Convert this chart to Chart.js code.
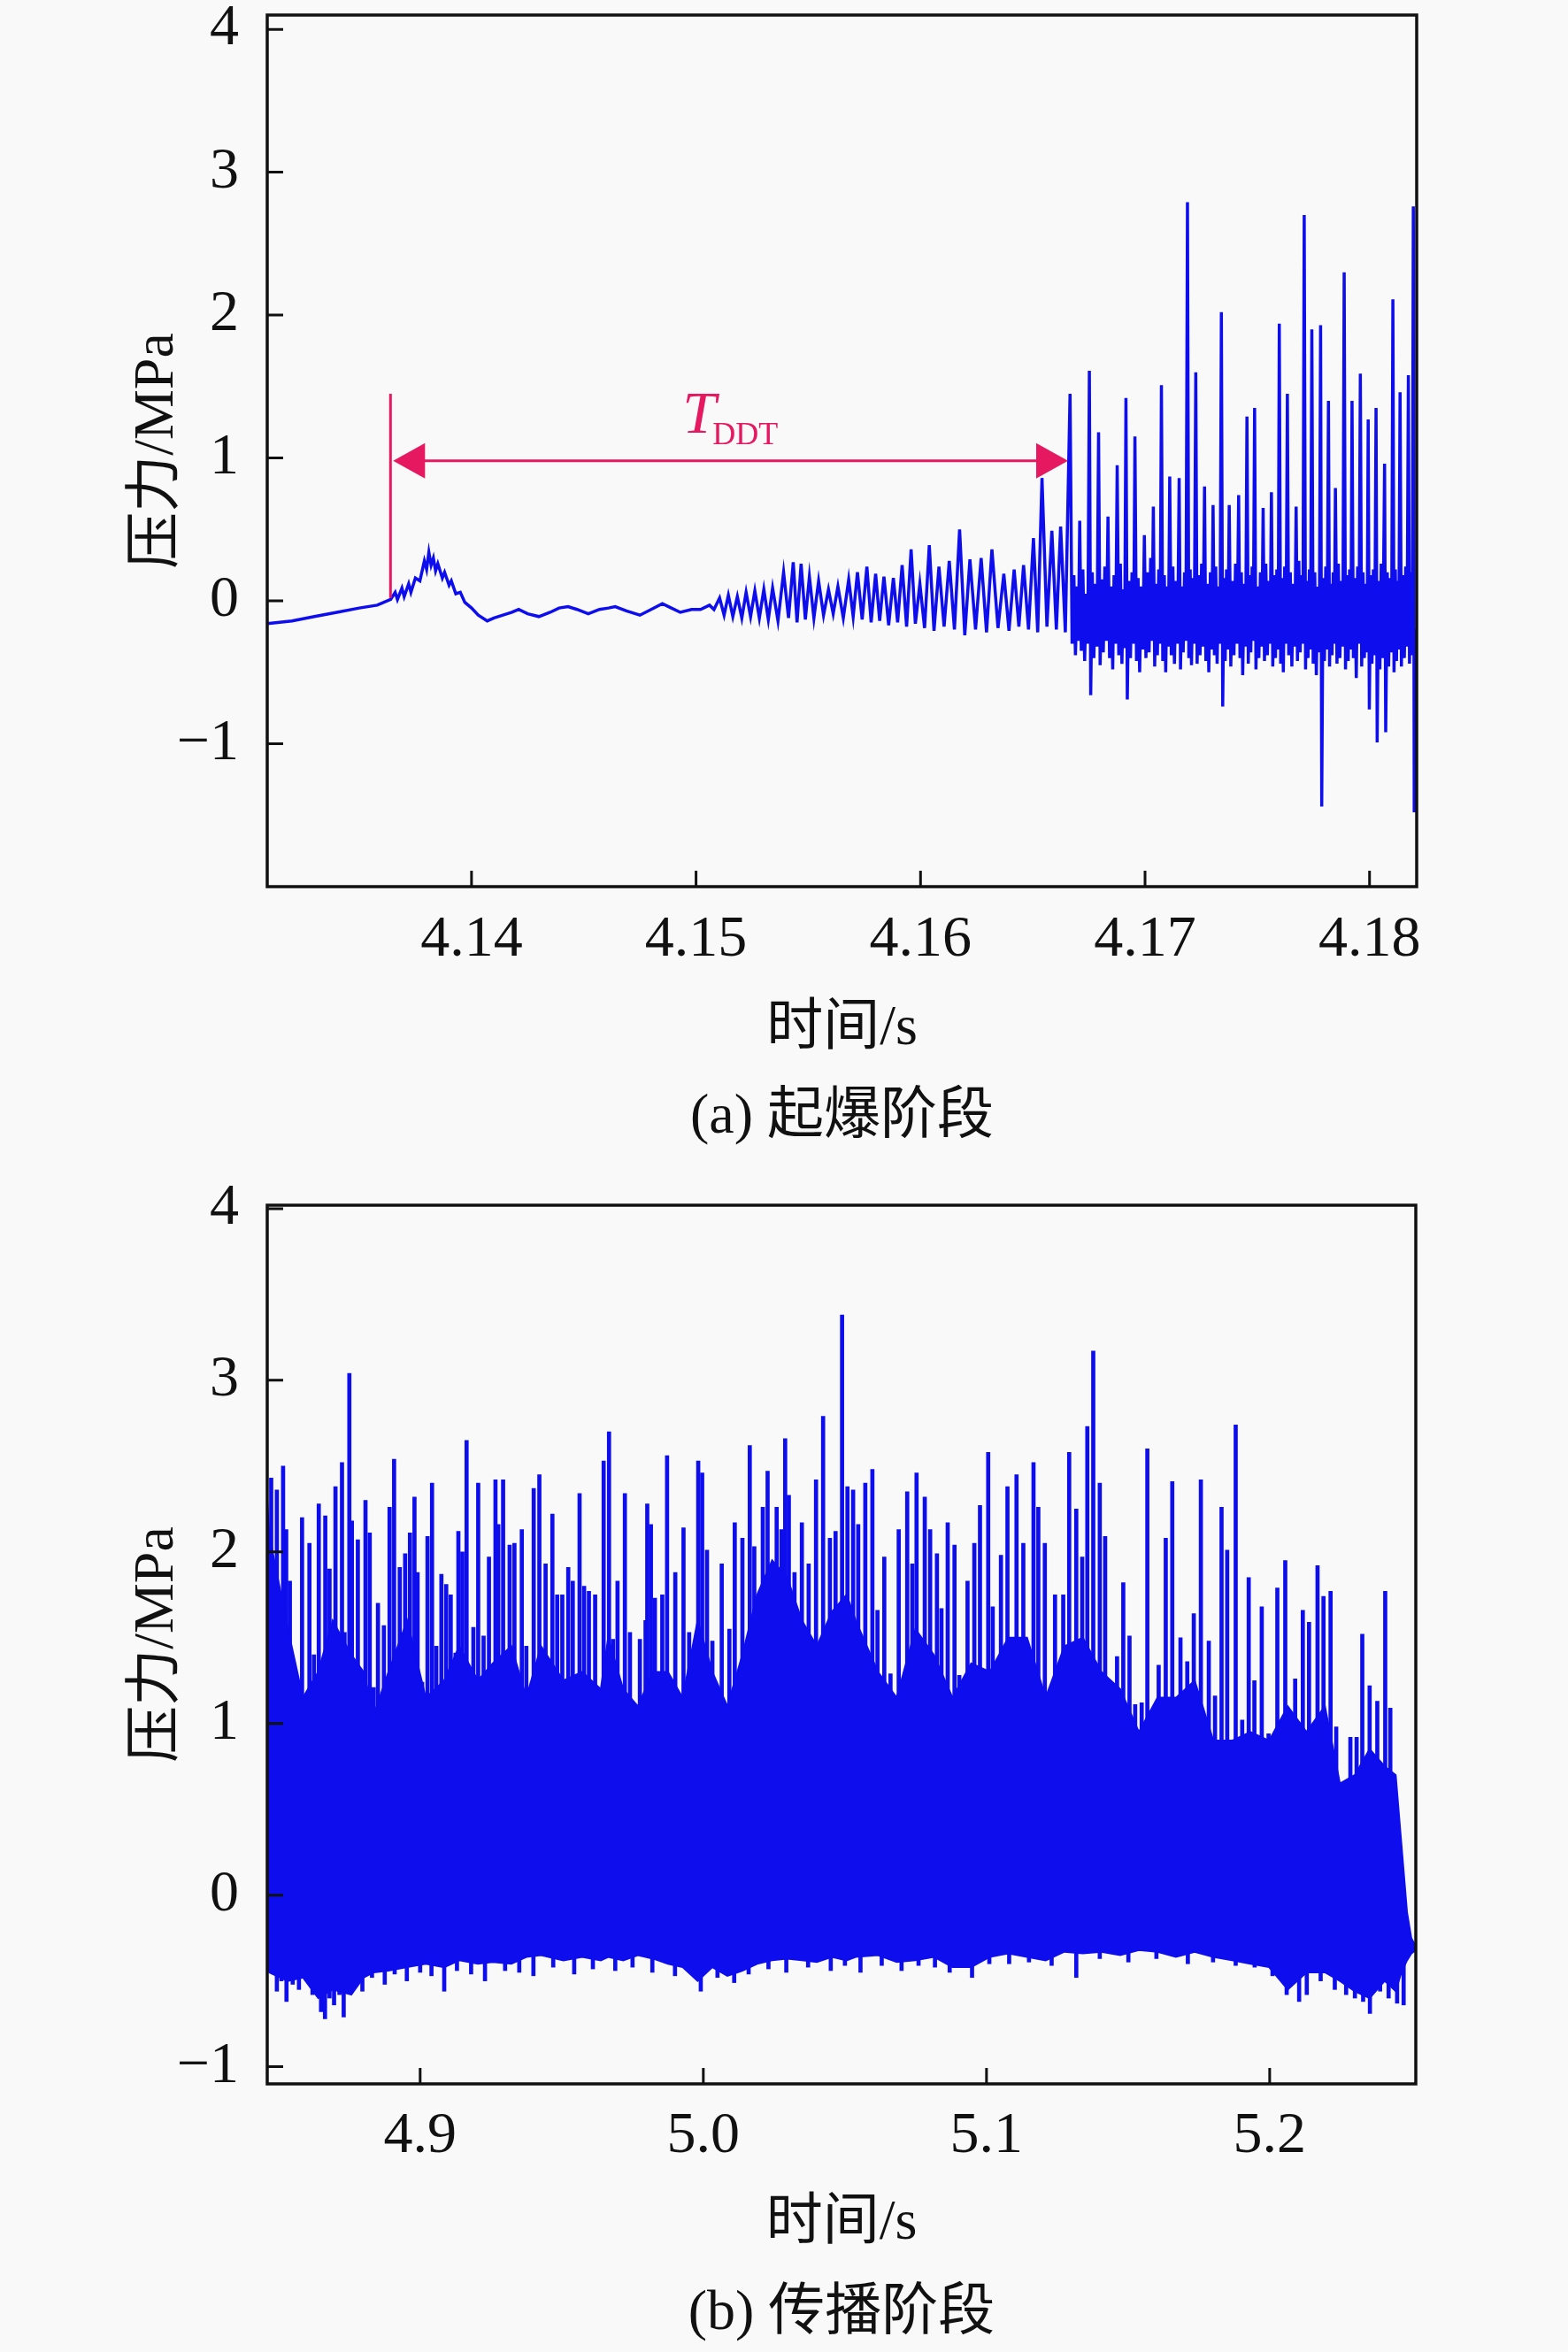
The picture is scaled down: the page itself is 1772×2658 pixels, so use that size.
<!DOCTYPE html>
<html>
<head>
<meta charset="utf-8">
<script src="https://cdn.jsdelivr.net/npm/chart.js@4.4.1/dist/chart.umd.min.js"></script>
<style>
html, body { margin: 0; padding: 0; background: #f9f9f9; overflow: hidden; }
#page { position: relative; width: 1772px; height: 2658px; }
.panel { position: absolute; left: 0; width: 1772px; }
#boxA { top: 0; height: 1330px; }
#boxB { top: 1300px; height: 1380px; }
</style>
</head>
<body>
<div id="page">
  <div class="panel" id="boxA"><canvas id="chartA"></canvas></div>
  <div class="panel" id="boxB"><canvas id="chartB"></canvas></div>
</div>
<script>
// (a) ignition stage: [time s, pressure MPa]
const ignitionRise = [
  [4.1309,-0.16],[4.1320,-0.14],[4.1330,-0.11],[4.1340,-0.08],[4.1350,-0.05],[4.1358,-0.03],[4.1364,0.01],
  [4.1366,0.06],[4.1367,0.01],[4.1369,0.09],[4.1370,0.03],[4.1372,0.12],[4.1373,0.06],[4.1375,0.16],
  [4.1377,0.14],[4.1379,0.28],[4.1380,0.22],[4.1381,0.34],[4.1382,0.25],[4.1383,0.30],[4.1384,0.21],
  [4.1385,0.26],[4.1387,0.16],[4.1388,0.20],[4.1390,0.11],[4.1391,0.14],[4.1393,0.05],[4.1395,0.06],
  [4.1397,-0.01],[4.1400,-0.05],[4.1403,-0.10],[4.1407,-0.14],[4.1410,-0.12],[4.1414,-0.10],[4.1418,-0.08],
  [4.1421,-0.06],[4.1425,-0.09],[4.1430,-0.11],[4.1435,-0.08],[4.1439,-0.05],[4.1443,-0.04],[4.1447,-0.06],
  [4.1452,-0.09],[4.1457,-0.06],[4.1461,-0.05],[4.1464,-0.04],[4.1469,-0.07],[4.1475,-0.10],[4.1480,-0.06],
  [4.1485,-0.02],[4.1489,-0.05],[4.1493,-0.08],[4.1498,-0.06],[4.1502,-0.06],[4.1506,-0.03],[4.1508,-0.06]
];
const ignitionWaves = [
  [4.15105,0.02],[4.15125,-0.10],[4.15144,0.04],[4.15164,-0.11],[4.15184,0.03],[4.15204,-0.12],[4.15223,0.06],
  [4.15243,-0.11],[4.15262,0.07],[4.15282,-0.12],[4.15302,0.08],[4.15322,-0.13],[4.15341,0.09],[4.15365,-0.14],
  [4.15390,0.20],[4.15412,-0.12],[4.15433,0.27],[4.15450,-0.15],[4.15468,0.26],[4.15487,-0.13],[4.15505,0.17],
  [4.15525,-0.12],[4.15546,0.14],[4.15568,-0.10],[4.15590,0.08],[4.15611,-0.09],[4.15632,0.10],[4.15656,-0.12],
  [4.15680,0.15],[4.15700,-0.11],[4.15719,0.20],[4.15740,-0.13],[4.15761,0.24],[4.15780,-0.15],[4.15800,0.19],
  [4.15818,-0.14],[4.15837,0.17],[4.15858,-0.17],[4.15879,0.16],[4.15898,-0.15],[4.15918,0.25],[4.15938,-0.18],
  [4.15958,0.36],[4.15977,-0.16],[4.15997,0.12],[4.16018,-0.19],[4.16039,0.39],[4.16060,-0.21],[4.16082,0.24],
  [4.16105,-0.18],[4.16128,0.28],[4.16151,-0.20],[4.16174,0.50],[4.16197,-0.24],[4.16220,0.29],[4.16245,-0.20],
  [4.16270,0.30],[4.16294,-0.22],[4.16318,0.36],[4.16345,-0.19],[4.16371,0.19],[4.16394,-0.21],[4.16417,0.22],
  [4.16438,-0.18],[4.16459,0.25],[4.16481,-0.20],[4.16503,0.44],[4.16522,-0.22],[4.16541,0.86],[4.16563,-0.18],
  [4.16585,0.49],[4.16605,-0.20],[4.16624,0.52],[4.16645,-0.22]
];
const ignitionDetonation = [
  [4.16666,1.45],[4.16675,-0.30],[4.16683,0.18],[4.16690,-0.38],[4.16698,0.10],[4.16703,-0.28],
  [4.16709,0.56],[4.16716,-0.35],[4.16723,0.22],[4.16731,-0.42],[4.16738,0.05],[4.16745,-0.30],
  [4.16752,1.61],[4.16758,-0.66],[4.16765,0.20],[4.16772,-0.40],[4.16779,0.12],[4.16786,-0.32],
  [4.16793,1.18],[4.16800,-0.45],[4.16807,0.15],[4.16814,-0.36],[4.16821,0.24],[4.16828,-0.28],
  [4.16835,0.59],[4.16842,-0.40],[4.16849,0.10],[4.16856,-0.48],[4.16862,0.18],[4.16869,-0.30],
  [4.16876,0.95],[4.16883,-0.38],[4.16890,0.26],[4.16897,-0.44],[4.16903,0.08],[4.16909,-0.33],
  [4.16915,1.42],[4.16921,-0.69],[4.16928,0.14],[4.16935,-0.40],[4.16942,0.20],[4.16949,-0.30],
  [4.16955,1.15],[4.16962,-0.42],[4.16969,0.16],[4.16976,-0.50],[4.16983,0.10],[4.16990,-0.34],
  [4.16997,0.46],[4.17004,-0.40],[4.17011,0.20],[4.17018,-0.36],[4.17025,0.30],[4.17031,-0.28],
  [4.17037,0.66],[4.17043,-0.46],[4.17049,0.12],[4.17055,-0.38],[4.17061,0.22],[4.17067,-0.30],
  [4.17073,1.51],[4.17079,-0.42],[4.17086,0.18],[4.17092,-0.50],[4.17098,0.10],[4.17104,-0.32],
  [4.17110,0.87],[4.17117,-0.38],[4.17124,0.24],[4.17131,-0.44],[4.17138,0.14],[4.17145,-0.30],
  [4.17152,0.86],[4.17158,-0.48],[4.17164,0.10],[4.17170,-0.36],[4.17176,0.20],[4.17182,-0.28],
  [4.17189,2.79],[4.17195,-0.40],[4.17201,0.22],[4.17207,-0.45],[4.17213,0.16],[4.17219,-0.30],
  [4.17226,1.60],[4.17232,-0.44],[4.17239,0.18],[4.17245,-0.38],[4.17252,0.26],[4.17258,-0.32],
  [4.17265,0.80],[4.17271,-0.42],[4.17278,0.12],[4.17284,-0.50],[4.17291,0.20],[4.17297,-0.34],
  [4.17303,0.67],[4.17309,-0.38],[4.17315,0.24],[4.17321,-0.44],[4.17328,0.10],[4.17334,-0.30],
  [4.17340,2.02],[4.17346,-0.74],[4.17352,0.16],[4.17357,-0.42],[4.17363,0.22],[4.17369,-0.34],
  [4.17375,0.67],[4.17382,-0.46],[4.17389,0.14],[4.17396,-0.38],[4.17403,0.26],[4.17410,-0.30],
  [4.17417,0.74],[4.17423,-0.40],[4.17429,0.20],[4.17435,-0.52],[4.17442,0.12],[4.17448,-0.32],
  [4.17454,1.29],[4.17460,-0.44],[4.17465,0.18],[4.17471,-0.36],[4.17477,0.24],[4.17482,-0.28],
  [4.17488,1.35],[4.17494,-0.48],[4.17501,0.10],[4.17507,-0.40],[4.17514,0.20],[4.17520,-0.32],
  [4.17526,0.65],[4.17532,-0.42],[4.17538,0.26],[4.17545,-0.38],[4.17551,0.14],[4.17557,-0.30],
  [4.17563,0.76],[4.17569,-0.46],[4.17575,0.18],[4.17581,-0.40],[4.17587,0.22],[4.17593,-0.34],
  [4.17598,1.94],[4.17604,-0.44],[4.17610,0.16],[4.17616,-0.50],[4.17622,0.24],[4.17628,-0.30],
  [4.17634,1.45],[4.17640,-0.38],[4.17647,0.20],[4.17654,-0.46],[4.17660,0.12],[4.17667,-0.32],
  [4.17673,0.66],[4.17679,-0.42],[4.17685,0.28],[4.17691,-0.36],[4.17697,0.18],[4.17703,-0.30],
  [4.17709,2.70],[4.17715,-0.48],[4.17720,0.14],[4.17726,-0.40],[4.17732,0.22],[4.17737,-0.34],
  [4.17743,1.90],[4.17749,-0.44],[4.17756,0.20],[4.17763,-0.52],[4.17769,0.10],[4.17776,-0.36],
  [4.17782,1.93],[4.17787,-1.44],[4.17793,0.16],[4.17799,-0.42],[4.17805,0.24],[4.17811,-0.34],
  [4.17817,1.40],[4.17822,-0.46],[4.17827,0.12],[4.17833,-0.38],[4.17838,0.20],[4.17843,-0.30],
  [4.17848,0.79],[4.17855,-0.44],[4.17861,0.26],[4.17868,-0.40],[4.17874,0.14],[4.17881,-0.32],
  [4.17887,2.30],[4.17893,-0.48],[4.17899,0.18],[4.17905,-0.42],[4.17911,0.22],[4.17917,-0.34],
  [4.17922,1.40],[4.17928,-0.40],[4.17934,0.16],[4.17941,-0.54],[4.17947,0.24],[4.17953,-0.30],
  [4.17959,1.59],[4.17965,-0.46],[4.17971,0.20],[4.17977,-0.40],[4.17983,0.12],[4.17989,-0.36],
  [4.17994,1.27],[4.17999,-0.76],[4.18005,0.18],[4.18011,-0.44],[4.18017,0.22],[4.18023,-0.38],
  [4.18029,1.35],[4.18034,-0.99],[4.18040,0.14],[4.18046,-0.48],[4.18052,0.26],[4.18059,-0.40],
  [4.18067,0.96],[4.18072,-0.92],[4.18079,0.20],[4.18085,-0.46],[4.18091,0.16],[4.18098,-0.36],
  [4.18104,2.11],[4.18109,-0.50],[4.18115,0.22],[4.18120,-0.42],[4.18125,0.14],[4.18130,-0.34],
  [4.18136,1.46],[4.18142,-0.46],[4.18148,0.18],[4.18155,-0.40],[4.18161,0.24],[4.18167,-0.32],
  [4.18173,1.58],[4.18178,-0.44],[4.18183,0.20],[4.18188,-0.38],[4.18191,0.10],
  [4.18195,2.76],[4.18199,-1.48],[4.18204,-0.20]
];

// T_DDT marker (time s / pressure MPa)
const tddtStart = 4.13639;
const tddtEnd = 4.16657;
const tddtLevel = 0.98;
const markerTop = 1.45;
const markerBottom = 0.02;
const labelTime = 4.1494;
const labelLevel = 1.18;

// (b) propagation stage: solid band edges, spikes above it, teeth below it
const bandTimes = [
  4.8460,4.8467,4.8533,4.8586,4.8640,4.8691,4.8757,4.8800,4.8836,4.8888,4.8954,4.9020,4.9085,4.9138,
  4.9204,4.9256,4.9322,4.9375,4.9427,4.9506,4.9572,4.9638,4.9664,4.9717,4.9769,4.9822,4.9875,4.9927,
  4.9980,5.0032,5.0085,5.0138,5.0190,5.0243,5.0296,5.0348,5.0401,5.0454,5.0506,5.0538,5.0617,5.0683,
  5.0749,5.0814,5.0880,5.0946,5.1012,5.1077,5.1143,5.1209,5.1275,5.1340,5.1406,5.1472,5.1538,5.1604,
  5.1669,5.1735,5.1801,5.1867,5.1932,5.1998,5.2064,5.2130,5.2195,5.2248,5.2301,5.2353,5.2406,5.2445,
  5.2465,5.2485,5.2500,5.2516
];
const bandUpper = [
  2.30,2.10,1.55,1.15,1.30,1.60,1.40,1.30,1.05,1.30,1.60,1.15,1.25,1.45,
  1.25,1.35,1.45,1.15,1.45,1.25,1.30,1.20,1.50,1.20,1.10,1.30,1.30,1.15,
  1.60,1.30,1.10,1.40,1.75,1.95,1.85,1.60,1.45,1.65,1.75,1.60,1.30,1.15,
  1.55,1.40,1.15,1.35,1.30,1.50,1.50,1.15,1.45,1.50,1.30,1.20,0.95,1.15,
  1.15,1.25,0.90,0.90,0.95,0.90,1.10,0.95,1.10,0.65,0.70,0.85,0.75,0.70,
  0.30,-0.10,-0.25,-0.30
];
const bandLower = [
  -0.40,-0.45,-0.50,-0.48,-0.60,-0.55,-0.58,-0.48,-0.45,-0.44,-0.42,-0.40,-0.42,-0.38,
  -0.40,-0.39,-0.40,-0.36,-0.35,-0.38,-0.36,-0.38,-0.36,-0.38,-0.35,-0.37,-0.40,-0.42,
  -0.50,-0.42,-0.47,-0.44,-0.40,-0.38,-0.37,-0.38,-0.39,-0.36,-0.38,-0.36,-0.35,-0.39,
  -0.38,-0.36,-0.42,-0.42,-0.36,-0.34,-0.36,-0.38,-0.33,-0.34,-0.33,-0.35,-0.32,-0.33,
  -0.36,-0.33,-0.36,-0.38,-0.40,-0.42,-0.55,-0.45,-0.45,-0.50,-0.56,-0.60,-0.50,-0.56,
  -0.45,-0.38,-0.34,-0.32
];
const spikeTimes = [
  4.8474,4.8494,4.8516,4.8527,4.8540,4.8583,4.8609,4.8625,4.8642,4.8665,4.8680,4.8701,4.8724,4.8733,
  4.8750,4.8759,4.8780,4.8807,4.8822,4.8836,4.8851,4.8872,4.8892,4.8908,4.8928,4.8947,4.8964,4.8980,
  4.8991,4.9007,4.9026,4.9042,4.9057,4.9075,4.9092,4.9108,4.9125,4.9135,4.9149,4.9164,4.9188,4.9205,
  4.9224,4.9243,4.9266,4.9276,4.9293,4.9316,4.9333,4.9359,4.9375,4.9401,4.9421,4.9443,4.9467,4.9484,
  4.9502,4.9523,4.9539,4.9563,4.9579,4.9596,4.9618,4.9648,4.9667,4.9681,4.9697,4.9723,4.9741,4.9776,
  4.9796,4.9802,4.9815,4.9829,4.9855,4.9872,4.9901,4.9930,4.9950,4.9982,4.9996,5.0013,5.0032,5.0065,
  5.0092,5.0111,5.0138,5.0164,5.0180,5.0210,5.0227,5.0259,5.0276,5.0289,5.0302,5.0322,5.0348,5.0372,
  5.0398,5.0423,5.0447,5.0467,5.0490,5.0509,5.0529,5.0547,5.0572,5.0597,5.0615,5.0639,5.0661,5.0690,
  5.0720,5.0738,5.0753,5.0782,5.0801,5.0825,5.0841,5.0863,5.0887,5.0904,5.0933,5.0957,5.0977,5.1006,
  5.1022,5.1051,5.1074,5.1106,5.1130,5.1166,5.1183,5.1206,5.1242,5.1271,5.1292,5.1317,5.1338,5.1356,
  5.1377,5.1400,5.1419,5.1461,5.1483,5.1505,5.1525,5.1548,5.1568,5.1608,5.1633,5.1656,5.1685,5.1709,
  5.1732,5.1757,5.1785,5.1807,5.1830,5.1850,5.1880,5.1903,5.1926,5.1946,5.1972,5.1996,5.2027,5.2055,
  5.2090,5.2117,5.2139,5.2169,5.2190,5.2215,5.2235,5.2285,5.2307,5.2327,5.2353,5.2380,5.2408,5.2426
];
const spikeHeights = [
  2.43,2.36,2.50,2.13,1.83,2.20,2.05,1.40,2.28,2.21,1.90,2.38,2.52,1.53,
  3.04,2.18,2.07,2.30,2.11,1.21,1.70,1.57,2.26,2.54,1.91,1.99,2.11,2.32,
  1.88,1.24,2.09,2.40,1.45,1.87,1.81,1.75,1.41,2.12,2.00,2.65,1.56,2.40,
  1.51,1.97,2.42,2.16,2.42,2.04,2.05,2.13,1.45,2.37,2.45,1.93,2.22,1.75,
  1.75,1.91,1.83,2.34,1.80,1.77,1.75,2.53,2.70,1.49,1.83,2.34,1.53,1.49,
  1.60,2.28,2.16,1.73,1.75,2.56,1.88,2.14,1.53,2.53,2.46,2.01,1.48,1.93,
  1.55,2.17,2.08,2.62,2.03,2.26,2.47,2.26,2.13,2.66,2.33,1.88,2.17,1.93,
  2.42,2.79,2.08,2.12,3.38,2.38,2.36,2.16,2.40,2.48,1.66,1.97,1.29,2.13,
  2.35,1.93,2.46,2.32,2.13,1.99,1.67,2.17,2.04,1.28,1.83,2.05,2.27,2.58,
  1.68,1.98,2.38,2.45,2.05,2.52,2.26,2.05,1.75,1.75,2.58,2.25,1.97,2.73,
  3.17,2.40,2.09,1.39,1.82,1.51,1.11,1.12,2.60,1.34,2.08,2.41,1.50,1.36,
  1.64,2.42,1.48,1.16,2.26,2.01,2.74,1.02,1.85,1.25,1.68,0.94,1.79,1.95,
  1.26,1.66,1.59,1.92,1.74,1.77,0.98,0.92,0.92,1.52,1.22,1.13,1.77,1.09
];
const dipTimes = [
  4.8494,4.8510,4.8528,4.8550,4.8572,4.8600,4.8620,4.8650,4.8664,4.8680,4.8696,4.8715,4.8730,4.8760,
  4.8796,4.8830,4.8875,4.8910,4.8953,4.9000,4.9040,4.9085,4.9130,4.9180,4.9229,4.9300,4.9350,4.9400,
  4.9470,4.9544,4.9610,4.9689,4.9750,4.9820,4.9900,4.9991,5.0050,5.0109,5.0160,5.0230,5.0293,5.0370,
  5.0450,5.0500,5.0555,5.0630,5.0700,5.0760,5.0818,5.0870,5.0949,5.1010,5.1080,5.1150,5.1230,5.1317,
  5.1400,5.1501,5.1600,5.1711,5.1800,5.1880,5.1947,5.2010,5.2060,5.2104,5.2131,5.2180,5.2230,5.2270,
  5.2301,5.2330,5.2354,5.2390,5.2420,5.2450,5.2473
];
const dipDepths = [
  -0.56,-0.50,-0.62,-0.52,-0.55,-0.50,-0.58,-0.68,-0.72,-0.60,-0.64,-0.58,-0.71,-0.55,
  -0.56,-0.48,-0.52,-0.46,-0.50,-0.45,-0.47,-0.56,-0.44,-0.46,-0.50,-0.44,-0.45,-0.47,
  -0.42,-0.46,-0.43,-0.44,-0.42,-0.45,-0.47,-0.56,-0.48,-0.51,-0.46,-0.43,-0.45,-0.42,
  -0.44,-0.41,-0.45,-0.41,-0.44,-0.41,-0.42,-0.45,-0.48,-0.40,-0.40,-0.39,-0.41,-0.48,
  -0.37,-0.39,-0.37,-0.40,-0.39,-0.41,-0.42,-0.47,-0.58,-0.62,-0.58,-0.50,-0.55,-0.58,
  -0.60,-0.62,-0.69,-0.56,-0.60,-0.63,-0.64
];

const xTicksA = [4.14, 4.15, 4.16, 4.17, 4.18];
const yTicksA = [-1, 0, 1, 2, 3, 4];
const xTicksB = [4.9, 5.0, 5.1, 5.2];
const yTicksB = [-1, 0, 1, 2, 3, 4];

const serif = "'Liberation Serif', 'Times New Roman', 'Noto Sans CJK SC', serif";
const ink = '#111111';
const blue = '#0d0dee';
const red = '#e6185f';

function signedLabel(v) {
  return v < 0 ? '\u2212' + Math.abs(v) : String(v);
}

function buildScales(o) {
  return {
    x: {
      type: 'linear', min: o.xMin, max: o.xMax, offset: false,
      grid: { display: false, drawTicks: false }, border: { display: false },
      afterBuildTicks: s => { s.ticks = o.xTicks.map(v => ({ value: v })); },
      ticks: {
        padding: o.xPad, color: ink, autoSkip: false, maxRotation: 0,
        font: { family: serif, size: 66, lineHeight: 1.2 },
        callback: v => Number(v).toFixed(o.digits)
      },
      // axis name and panel caption, two lines under the axis
      title: {
        display: true, text: ['时间/s', o.caption], color: ink,
        font: { family: serif, size: 64, lineHeight: o.titleLine },
        padding: { top: 0, bottom: o.xTitlePad }
      },
      afterFit: s => { s.height = o.xHeight; s.paddingLeft = 0; s.paddingRight = 0; }
    },
    y: {
      type: 'linear', min: o.yMin, max: o.yMax,
      grid: { display: false, drawTicks: false }, border: { display: false },
      afterBuildTicks: s => { s.ticks = o.yTicks.map(v => ({ value: v })); },
      ticks: {
        padding: 32, color: ink, autoSkip: false,
        font: { family: serif, size: 66, lineHeight: 1.2 },
        callback: v => signedLabel(v)
      },
      title: {
        display: true, text: '压力/MPa', color: ink,
        font: { family: serif, size: 64, lineHeight: 1.2 },
        padding: { top: 140, bottom: 0 }
      },
      afterFit: s => { s.width = 302; s.paddingTop = 0; s.paddingBottom = 0; }
    }
  };
}

// box round the plot area with inward tick marks
const framePlugin = {
  id: 'frame',
  afterDraw(chart) {
    const { ctx, chartArea: a, scales: { x, y } } = chart;
    ctx.save();
    ctx.strokeStyle = ink;
    ctx.lineWidth = 3.5;
    ctx.strokeRect(a.left, a.top, a.right - a.left, a.bottom - a.top);
    ctx.lineWidth = 3;
    ctx.beginPath();
    x.ticks.forEach(t => {
      const px = x.getPixelForValue(t.value);
      ctx.moveTo(px, a.bottom);
      ctx.lineTo(px, a.bottom - 18);
    });
    y.ticks.forEach(t => {
      const py = y.getPixelForValue(t.value);
      ctx.moveTo(a.left, py);
      ctx.lineTo(a.left + 18, py);
    });
    ctx.stroke();
    ctx.restore();
  }
};

const tddtPlugin = {
  id: 'tddt',
  afterDatasetsDraw(chart) {
    const { ctx, scales: { x, y } } = chart;
    const x0 = x.getPixelForValue(tddtStart);
    const x1 = x.getPixelForValue(tddtEnd);
    const ya = y.getPixelForValue(tddtLevel);
    ctx.save();
    ctx.strokeStyle = red;
    ctx.fillStyle = red;
    ctx.lineWidth = 3;
    ctx.beginPath();
    ctx.moveTo(x0, y.getPixelForValue(markerBottom));
    ctx.lineTo(x0, y.getPixelForValue(markerTop));
    ctx.moveTo(x0 + 10, ya);
    ctx.lineTo(x1 - 10, ya);
    ctx.stroke();
    const len = 36, half = 20;
    ctx.beginPath();
    ctx.moveTo(x0 + 3, ya);
    ctx.lineTo(x0 + 3 + len, ya - half);
    ctx.lineTo(x0 + 3 + len, ya + half);
    ctx.closePath();
    ctx.fill();
    ctx.beginPath();
    ctx.moveTo(x1, ya);
    ctx.lineTo(x1 - len, ya - half);
    ctx.lineTo(x1 - len, ya + half);
    ctx.closePath();
    ctx.fill();
    const lx = x.getPixelForValue(labelTime);
    const ly = y.getPixelForValue(labelLevel);
    ctx.textAlign = 'left';
    ctx.textBaseline = 'alphabetic';
    ctx.font = 'italic 68px ' + serif;
    ctx.fillText('T', lx, ly);
    const w = ctx.measureText('T').width;
    ctx.font = '36px ' + serif;
    ctx.fillText('DDT', lx + w - 4, ly + 13);
    ctx.restore();
  }
};

const toPoints = rows => rows.map(r => ({ x: r[0], y: r[1] }));
const traceA = toPoints(ignitionRise.concat(ignitionWaves, ignitionDetonation));

new Chart(document.getElementById('chartA'), {
  type: 'line',
  data: {
    datasets: [{
      data: traceA, borderColor: blue, borderWidth: 3.5,
      pointRadius: 0, tension: 0, fill: false
    }]
  },
  options: {
    animation: false, responsive: true, maintainAspectRatio: false, devicePixelRatio: 1,
    layout: { padding: { top: 17, right: 171, bottom: 0, left: 0 } },
    scales: buildScales({
      xMin: 4.1309, xMax: 4.1821, yMin: -2, yMax: 4.1,
      xTicks: xTicksA, yTicks: yTicksA, digits: 2,
      xPad: 21, xTitlePad: 17, xHeight: 328, titleLine: 100 / 64,
      caption: '(a) 起爆阶段'
    }),
    plugins: { legend: { display: false }, tooltip: { enabled: false } }
  },
  plugins: [framePlugin, tddtPlugin]
});

new Chart(document.getElementById('chartB'), {
  type: 'line',
  data: {
    datasets: [
      {
        data: bandTimes.map((t, i) => ({ x: t, y: bandUpper[i] })),
        borderColor: blue, backgroundColor: blue, borderWidth: 2,
        pointRadius: 0, tension: 0, fill: '+1'
      },
      {
        data: bandTimes.map((t, i) => ({ x: t, y: bandLower[i] })),
        borderColor: blue, borderWidth: 2, pointRadius: 0, tension: 0, fill: false
      },
      {
        type: 'bar',
        data: spikeTimes.map((t, i) => ({ x: t, y: [0, spikeHeights[i]] })),
        backgroundColor: blue, borderWidth: 0, barThickness: 4, grouped: false
      },
      {
        type: 'bar',
        data: dipTimes.map((t, i) => ({ x: t, y: [0, dipDepths[i]] })),
        backgroundColor: blue, borderWidth: 0, barThickness: 4, grouped: false
      }
    ]
  },
  options: {
    animation: false, responsive: true, maintainAspectRatio: false, devicePixelRatio: 1,
    layout: { padding: { top: 62, right: 172, bottom: 0, left: 0 } },
    scales: buildScales({
      xMin: 4.846, xMax: 5.2516, yMin: -1.1, yMax: 4.02,
      xTicks: xTicksB, yTicks: yTicksB, digits: 1,
      xPad: 20, xTitlePad: 14, xHeight: 325, titleLine: 102 / 64,
      caption: '(b) 传播阶段'
    }),
    plugins: { legend: { display: false }, tooltip: { enabled: false } }
  },
  plugins: [framePlugin]
});
</script>
</body>
</html>
